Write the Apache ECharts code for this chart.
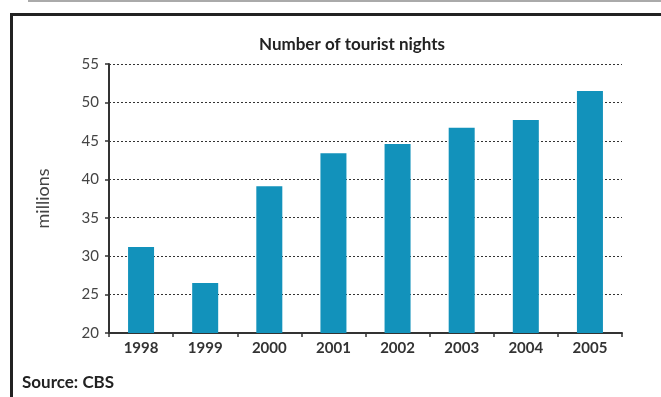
<!DOCTYPE html>
<html>
<head>
<meta charset="utf-8">
<script src="https://cdn.jsdelivr.net/npm/echarts@6/dist/echarts.min.js"></script>
<style>
  html, body { margin: 0; padding: 0; background: #fff; }
  #chart { width: 661px; height: 397px; }
</style>
</head>
<body>
<div id="chart"></div>
<script>
// tourist nights per year, millions
const years = ['1998', '1999', '2000', '2001', '2002', '2003', '2004', '2005'];
const nights = [31.2, 26.5, 39.1, 43.4, 44.6, 46.7, 47.7, 51.5];
const yTicks = [20, 25, 30, 35, 40, 45, 50, 55];

const fontFam = 'Lato, "Open Sans", sans-serif';
const chart = echarts.init(document.getElementById('chart'), null, { renderer: 'canvas' });

const option = {
    backgroundColor: '#fff',
    animation: false,
    title: {
        text: 'Number of tourist nights',
        left: 347,
        textAlign: 'center',
        top: 31,
        textStyle: { fontFamily: fontFam, fontSize: 17, fontWeight: 'bold', color: '#222' }
    },
    grid: { left: 109, right: 39, top: 64, bottom: 64 },
    xAxis: {
        type: 'category',
        data: years,
        axisLine: { lineStyle: { color: '#333', width: 2 } },
        axisTick: { show: true, alignWithLabel: false, length: 4, lineStyle: { color: '#333', width: 1.5 } },
        axisLabel: { color: '#333', fontFamily: fontFam, fontSize: 15, fontWeight: 'bold', margin: 8 }
    },
    yAxis: {
        type: 'value',
        min: yTicks[0],
        max: yTicks[yTicks.length - 1],
        interval: 5,
        name: 'millions',
        nameLocation: 'middle',
        nameGap: 57,
        nameTextStyle: { fontFamily: fontFam, fontSize: 18, color: '#444' },
        axisLine: { show: true, lineStyle: { color: '#333', width: 2 } },
        axisTick: { show: true, length: 4, lineStyle: { color: '#333', width: 1.5 } },
        axisLabel: { color: '#444', fontFamily: fontFam, fontSize: 15, margin: 10 },
        splitLine: { show: true, lineStyle: { color: '#333', type: [2, 2], width: 1 } }
    },
    series: [{
        type: 'bar',
        data: nights,
        barWidth: 26,
        itemStyle: { color: '#1292bb' }
    }],
    graphic: [
        {   // faint line at the very top
            type: 'line',
            shape: { x1: 28, y1: 1, x2: 661, y2: 1 },
            style: { stroke: '#aaa', lineWidth: 2 }
        },
        {   // outer box
            type: 'rect',
            shape: { x: 11.5, y: 14.5, width: 700, height: 400 },
            style: { fill: null, stroke: '#222', lineWidth: 3 }
        },
        {
            type: 'text',
            left: 22,
            top: 374,
            style: { text: 'Source: CBS', font: 'bold 17px ' + fontFam, fill: '#222' }
        }
    ]
};
chart.setOption(option);
</script>
</body>
</html>
